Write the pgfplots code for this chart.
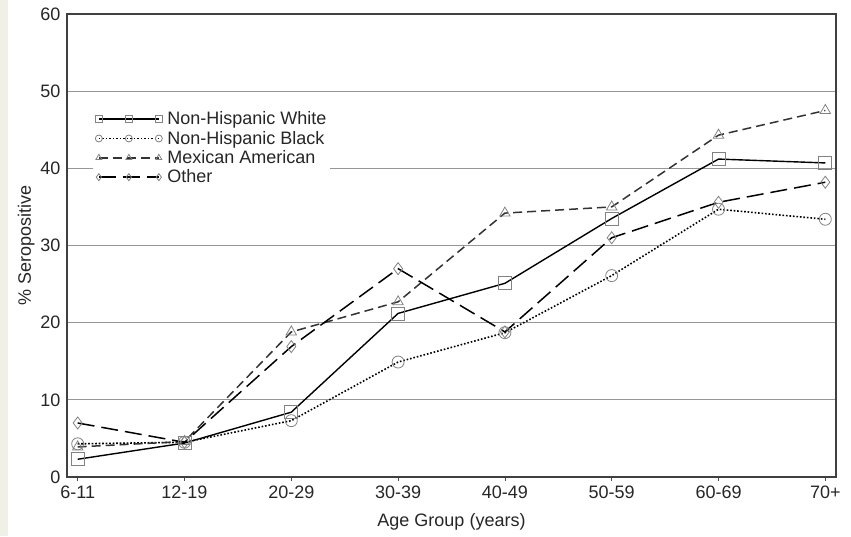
\documentclass[border=0pt]{standalone}
\usepackage{fontspec}
\setmainfont{Liberation Sans}
\usepackage{pgfplots}
\pgfplotsset{compat=1.18}
\definecolor{markgray}{RGB}{130,130,130}
\definecolor{gridgray}{RGB}{150,150,150}
\definecolor{beige}{RGB}{240,240,230}
\begin{document}
\begin{tikzpicture}
\begin{axis}[
  scale only axis, width=769pt, height=463pt,
  xmin=-0.1, xmax=7.1, ymin=0, ymax=60,
  xtick={0,...,7},
  xticklabels={6-11,12-19,20-29,30-39,40-49,50-59,60-69,70+},
  ytick={0,10,...,60},
  ymajorgrids, grid style={gridgray, line width=0.9pt},
  xtick pos=left, ytick pos=left,
  tick align=outside,
  xtick style={black!70, line width=0.8pt}, major tick length=4pt,
  ytick style={draw=none},
  axis line style={black!75, line width=1.1pt},
  ticklabel style={font=\fontsize{18}{20}\selectfont, text=black!85},
  /pgf/number format/assume math mode=true,
  xticklabel style={yshift=-1pt},
  yticklabel style={xshift=1pt},
  xlabel={Age Group (years)}, ylabel={\% Seropositive},
  every axis x label/.style={at={(rel axis cs:0.5,-0.097)}, anchor=center, font=\fontsize{18}{20}\selectfont, text=black!85},
  every axis y label/.style={at={(rel axis cs:-0.053,0.5)}, rotate=90, anchor=center, font=\fontsize{18}{20}\selectfont, text=black!85},
  legend style={draw=none, fill=white, at={(rel axis cs:0.034,0.802)}, anchor=north west,
    font=\fontsize{18}{20}\selectfont, text=black!85, row sep=0.8pt, column sep=3pt, inner xsep=2pt, inner ysep=4pt},
  legend cell align=left,
  legend image code/.code={\draw[#1, mark repeat=1, mark phase=1, mark size=3.5pt] plot coordinates {(0pt,0pt) (30pt,0pt) (60pt,0pt)};},
  every axis plot/.append style={mark options={solid, draw=markgray, fill=none, line width=0.8pt}},
]
\coordinate (bl) at (rel axis cs:0,0);
\addplot[black, line width=1.4pt, mark=square, mark size=6.5pt] coordinates {
 (0,2.3) (1,4.4) (2,8.4) (3,21.2) (4,25.1) (5,33.5) (6,41.2) (7,40.7)};
\addlegendentry{Non-Hispanic White}
\addplot[black, line width=1.6pt, dash pattern=on 1.6pt off 1.9pt, mark=o, mark size=6pt] coordinates {
 (0,4.3) (1,4.5) (2,7.3) (3,14.9) (4,18.7) (5,26.1) (6,34.7) (7,33.4)};
\addlegendentry{Non-Hispanic Black}
\addplot[black!80, line width=1.5pt, dash pattern=on 9pt off 5pt, mark=triangle, mark size=6pt] coordinates {
 (0,3.9) (1,4.6) (2,18.8) (3,22.7) (4,34.2) (5,35.0) (6,44.3) (7,47.5)};
\addlegendentry{Mexican American}
\addplot[black, line width=1.5pt, dash pattern=on 17pt off 7pt, mark=diamond, mark size=6pt] coordinates {
 (0,7.0) (1,4.5) (2,16.9) (3,27.0) (4,18.8) (5,31.0) (6,35.6) (7,38.2)};
\addlegendentry{Other}
\end{axis}
\pgfresetboundingbox
\fill[beige] (bl) ++(-67pt,-59pt) rectangle ++(8pt,536pt);
\path (bl) ++(-67pt,-59pt) rectangle ++(851pt,536pt);
\end{tikzpicture}
\end{document}
